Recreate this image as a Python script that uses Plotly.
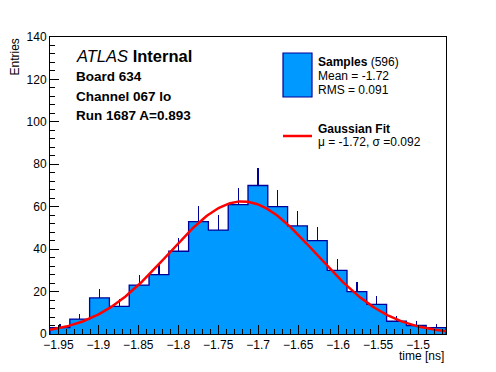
import numpy as np
import plotly.graph_objects as go

# ---- data ----
x_min = -1.9605
x_max = -1.465
n_bins = 20
counts = [3, 7, 17, 13, 23, 28, 39, 53, 49, 61, 70, 60, 51, 44, 30, 20, 14, 6, 4, 3]
n_entries = 596
fit_amp = 62.5
fit_mu = -1.72
fit_sigma = 0.092
x_ticks = [-1.95, -1.9, -1.85, -1.8, -1.75, -1.7, -1.65, -1.6, -1.55, -1.5]
y_ticks = [0, 20, 40, 60, 80, 100, 120, 140]
info_lines = ["Board 634", "Channel 067 lo", "Run 1687 A=0.893"]

FILL = "#0099ff"
EDGE = "#000099"
FONT = "Liberation Sans, Arial, Helvetica, sans-serif"

bw = (x_max - x_min) / n_bins
edges = [x_min + i * bw for i in range(n_bins + 1)]
centers = [x_min + (i + 0.5) * bw for i in range(n_bins)]
errs = [float(np.sqrt(c)) for c in counts]

fig = go.Figure()
fig.add_trace(go.Bar(
    x=centers, y=counts, width=bw, marker=dict(color=FILL, line=dict(width=0)),
    error_y=dict(type="data", symmetric=False, array=errs, arrayminus=[0] * n_bins,
                 width=0, color=EDGE, thickness=1.2),
    showlegend=False, hoverinfo="skip"))

step_x = [edges[0]] + edges + [edges[-1]]
step_y = [0] + counts + [counts[-1], 0]
fig.add_trace(go.Scatter(x=step_x, y=step_y, mode="lines", line=dict(shape="hv", color=EDGE, width=1.3),
                         showlegend=False, hoverinfo="skip"))

xf = np.linspace(x_min, x_max, 300)
yf = fit_amp * np.exp(-0.5 * ((xf - fit_mu) / fit_sigma) ** 2)
fig.add_trace(go.Scatter(x=xf, y=yf, mode="lines", line=dict(color="#ff0000", width=2.5),
                         showlegend=False, hoverinfo="skip"))

W, H = 496, 372
OFF = 8  # page body margin
L, R, T, B = 50, 50, 37, 38
pw, ph = W - L - R, H - T - B


def px(xp):
    return (xp - L) / pw


def py(yp):
    return (H - B - yp) / ph


fig.update_layout(
    width=W, height=H, margin=dict(l=L - OFF, r=R + OFF, t=T - OFF, b=B + OFF),
    paper_bgcolor="white", plot_bgcolor="white",
    font=dict(family=FONT, size=12, color="black"),
    bargap=0,
    xaxis=dict(range=[x_min, x_max], tickvals=x_ticks, ticktext=[("\u2212%g" % abs(v)) for v in x_ticks],
               ticks="inside", ticklen=9, tickwidth=1, tickcolor="black",
               minor=dict(dtick=0.01, tick0=-1.95, ticks="inside", ticklen=5, tickcolor="black"),
               showline=True, linecolor="black", linewidth=1, mirror=True,
               showgrid=False, zeroline=False, tickfont=dict(size=12)),
    yaxis=dict(range=[0, 140], tickvals=y_ticks,
               ticks="inside", ticklen=9, tickwidth=1, tickcolor="black",
               minor=dict(dtick=4, tick0=0, ticks="inside", ticklen=5, tickcolor="black"),
               showline=True, linecolor="black", linewidth=1, mirror=True,
               showgrid=False, zeroline=False, tickfont=dict(size=12)),
)

ann = []
# axis titles
ann.append(dict(text="time [ns]", xref="paper", yref="paper", x=1.0, y=py(356), xanchor="right",
                yanchor="middle", showarrow=False, font=dict(size=12)))
ann.append(dict(text="Entries", xref="paper", yref="paper", x=px(14), y=py(37), xanchor="center",
                yanchor="top", textangle=-90, showarrow=False, font=dict(size=12)))
# ATLAS label
ann.append(dict(text="<i>ATLAS</i> <b>Internal</b>", xref="paper", yref="paper", x=px(74), y=py(56.5),
                xanchor="left", yanchor="middle", showarrow=False, font=dict(size=16.5)))
for i, t in enumerate(info_lines):
    ann.append(dict(text="<b>%s</b>" % t, xref="paper", yref="paper", x=px(74), y=py(76.5 + 19.5 * i),
                    xanchor="left", yanchor="middle", showarrow=False, font=dict(size=13.5)))
# legend texts
leg_x = px(316)
ann.append(dict(text="<b>Samples</b> (%d)" % n_entries, xref="paper", yref="paper", x=leg_x, y=py(62),
                xanchor="left", yanchor="middle", showarrow=False, font=dict(size=12)))
ann.append(dict(text="Mean = -1.72", xref="paper", yref="paper", x=leg_x, y=py(76),
                xanchor="left", yanchor="middle", showarrow=False, font=dict(size=12)))
ann.append(dict(text="RMS = 0.091", xref="paper", yref="paper", x=leg_x, y=py(90),
                xanchor="left", yanchor="middle", showarrow=False, font=dict(size=12)))
ann.append(dict(text="<b>Gaussian Fit</b>", xref="paper", yref="paper", x=leg_x, y=py(128.5),
                xanchor="left", yanchor="middle", showarrow=False, font=dict(size=12)))
ann.append(dict(text="\u03bc = -1.72, \u03c3 =0.092", xref="paper", yref="paper", x=leg_x, y=py(141.5),
                xanchor="left", yanchor="middle", showarrow=False, font=dict(size=12)))
fig.update_layout(annotations=ann)

fig.add_shape(type="rect", xref="paper", yref="paper", x0=px(283), x1=px(312), y0=py(97), y1=py(53),
              fillcolor=FILL, line=dict(color=EDGE, width=1.2))
fig.add_shape(type="line", xref="paper", yref="paper", x0=px(283), x1=px(312), y0=py(136), y1=py(136),
              line=dict(color="#ff0000", width=2.5))

fig.write_html("out.html")
